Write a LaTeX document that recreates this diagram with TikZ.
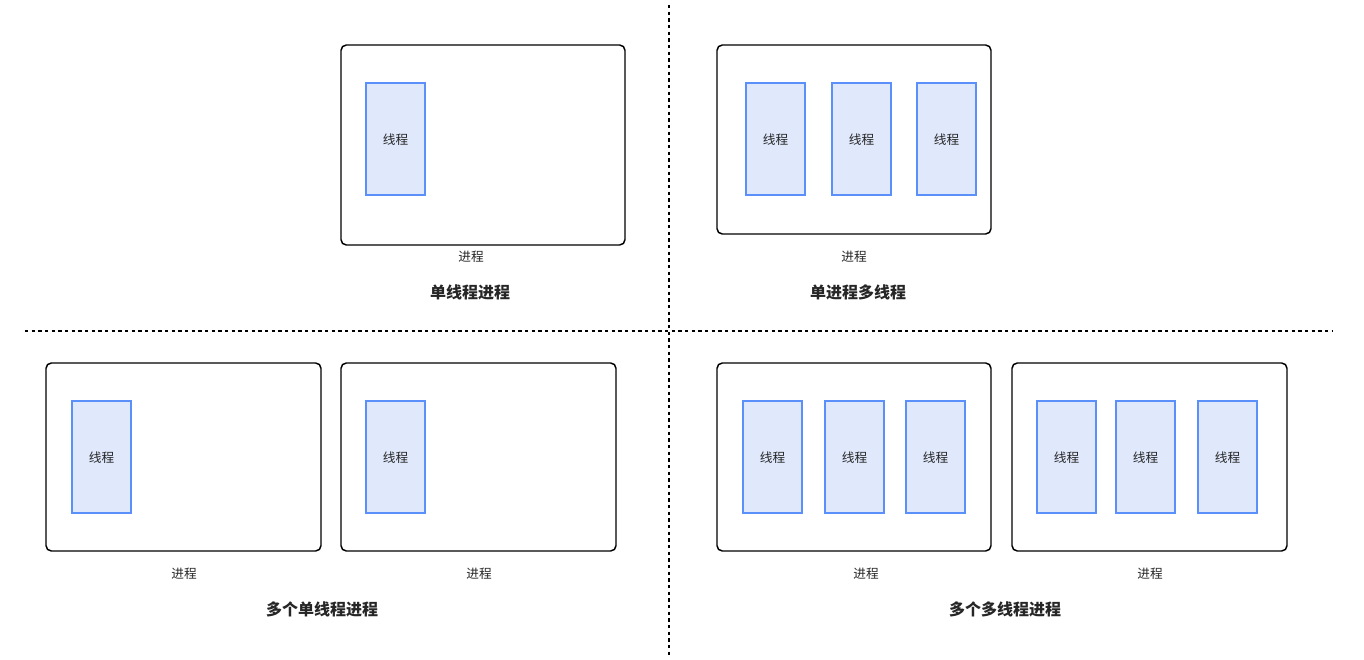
\documentclass[tikz,border=0pt]{standalone}
\usepackage{fontspec}
\newfontfamily\cjk{Noto Sans CJK SC}
\definecolor{tfill}{HTML}{E0E8FC}
\definecolor{tline}{HTML}{5B8FF9}
\begin{document}
\begin{tikzpicture}[x=0.75pt,y=-0.75pt,
 proc/.style={draw=black,line width=1.1pt,rounded corners=4pt},
 thr/.style={draw=tline,fill=tfill,line width=1.1pt},
 lbl/.style={font=\cjk\fontsize{9.5}{11}\selectfont,text=black!85},
 ttl/.style={font=\cjk\bfseries\fontsize{12}{14}\selectfont,text=black!85},
 sep/.style={draw=black,line width=1pt,dash pattern=on 2.5pt off 2.5pt}]
\useasboundingbox (0,0) rectangle (1364,660);
\coordinate (v1) at (669,5); \coordinate (v2) at (669,655);
\coordinate (h1) at (25,331); \coordinate (h2) at (1332,331);
\draw[sep] (v1)--(v2); \draw[sep] (h1)--(h2);
\newcommand{\thread}[3]{\draw[thr] (#2,#3) rectangle ++(59,112); \node[lbl] (#1) at (#2+29.5,#3+57) {线程};}
% top left
\draw[proc] (341,45) rectangle (625,245) coordinate (p1);
\thread{t1}{366}{83}
\node[lbl] (l1) at (471,257) {进程};
\node[ttl] (T1) at (470,292) {单线程进程};
% top right
\draw[proc] (717,45) rectangle (991,234) coordinate (p2);
\thread{t2}{746}{83}\thread{t3}{832}{83}\thread{t4}{917}{83}
\node[lbl] (l2) at (854,257) {进程};
\node[ttl] (T2) at (858,292) {单进程多线程};
% bottom left
\draw[proc] (46,363) rectangle (321,551) coordinate (p3);
\draw[proc] (341,363) rectangle (616,551) coordinate (p4);
\thread{t5}{72}{401}\thread{t6}{366}{401}
\node[lbl] (l3) at (184,574) {进程};
\node[lbl] (l4) at (479,574) {进程};
\node[ttl] (T3) at (322,609) {多个单线程进程};
% bottom right
\draw[proc] (717,363) rectangle (991,551) coordinate (p5);
\draw[proc] (1012,363) rectangle (1287,551) coordinate (p6);
\thread{t7}{743}{401}\thread{t8}{825}{401}\thread{t9}{906}{401}
\thread{t10}{1037}{401}\thread{t11}{1116}{401}\thread{t12}{1198}{401}
\node[lbl] (l5) at (866,574) {进程};
\node[lbl] (l6) at (1150,574) {进程};
\node[ttl] (T4) at (1005,609) {多个多线程进程};
\end{tikzpicture}
\end{document}
